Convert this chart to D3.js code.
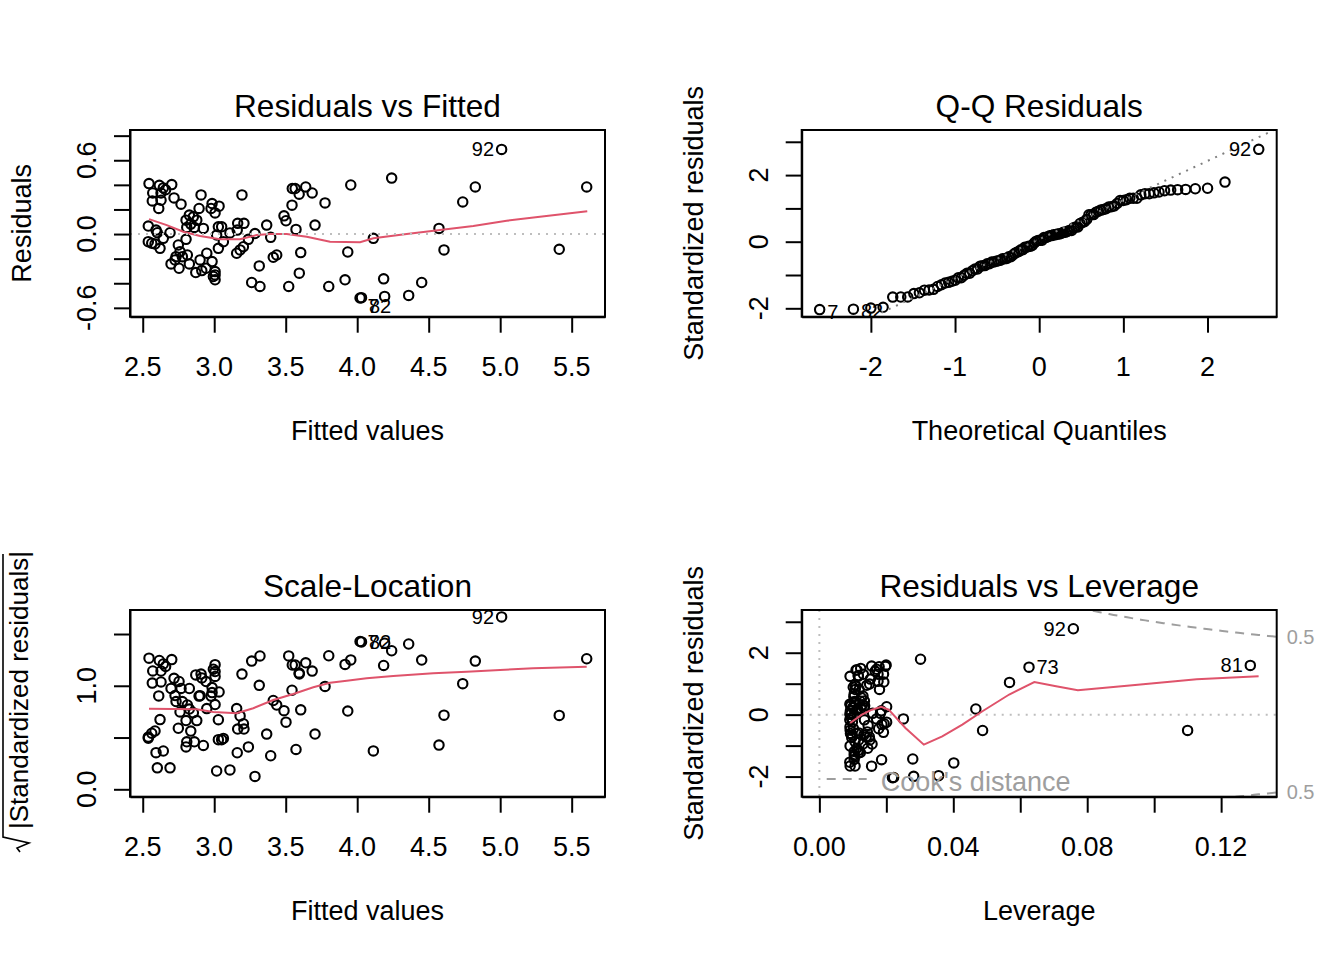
<!DOCTYPE html>
<html>
<head>
<meta charset="utf-8">
<script src="https://cdn.jsdelivr.net/npm/d3@7"></script>
<style>
  body { margin: 0; background: #fff; }
  text { font-family: "Liberation Sans", Arial, Helvetica, sans-serif; fill: #000; }
</style>
</head>
<body>
<svg id="chart" width="1344" height="960"></svg>
<script>
// values (simple regression, n = 110)
var fitted = [
  2.544, 2.616, 2.644, 2.703, 2.570, 2.628, 2.719, 2.567, 2.628, 2.768,
  2.612, 2.908, 2.985, 3.034, 2.978, 3.006, 2.894, 2.826, 2.854, 2.803,
  2.878, 2.836, 2.808, 2.924, 2.861, 2.539, 2.593, 2.602, 2.691, 2.644,
  2.539, 2.563, 2.586, 2.621, 2.749, 2.803, 3.029, 3.052, 3.110, 3.017,
  3.064, 3.029, 3.164, 3.208, 3.161, 3.285, 3.367, 3.395, 3.239, 3.204,
  3.181, 3.157, 2.761, 2.733, 2.777, 2.812, 2.726, 2.698, 2.754, 2.826,
  2.901, 2.948, 2.871, 2.913, 2.943, 2.985, 3.006, 3.006, 3.006, 2.994,
  3.315, 3.413, 3.437, 3.488, 3.502, 3.544, 3.546, 3.566, 3.640, 3.594,
  3.685, 3.775, 3.572, 3.705, 3.605, 3.595, 3.521, 3.262, 3.320, 3.801,
  3.915, 3.934, 3.955, 4.020, 5.010, 4.241, 4.826, 4.738, 5.605, 4.572,
  4.113, 4.607, 5.413, 4.185, 4.451, 4.192, 4.360, 4.030, 3.194, 2.660
];
var resid = [
  0.410, 0.396, 0.375, 0.402, 0.334, 0.334, 0.294, 0.269, 0.275, 0.243,
  0.208, 0.318, 0.248, 0.227, 0.208, 0.172, 0.208, 0.154, 0.140, 0.113,
  0.113, 0.081, 0.054, 0.046, 0.054, 0.065, 0.032, 0.011, 0.011, -0.035,
  -0.062, -0.075, -0.081, -0.116, -0.089, -0.043, 0.059, 0.059, 0.009, -0.008,
  -0.062, -0.116, 0.087, 0.087, 0.032, 0.004, 0.073, -0.027, -0.043, -0.103,
  -0.129, -0.156, -0.143, -0.184, -0.184, -0.170, -0.210, -0.243, -0.278, -0.243,
  -0.210, -0.156, -0.313, -0.297, -0.278, -0.224, -0.305, -0.332, -0.372, -0.345,
  -0.259, -0.189, -0.170, 0.148, 0.108, 0.235, 0.370, 0.370, 0.383, 0.324,
  0.334, 0.253, 0.038, 0.073, -0.151, -0.318, -0.426, -0.394, -0.426, -0.426,
  -0.372, -0.146, 0.399, -0.520, 0.688, 0.455, 0.383, 0.261, 0.383, 0.046,
  -0.035, -0.129, -0.124, -0.364, -0.394, -0.507, -0.499, -0.517, 0.318, 0.360
];
// observation numbers of the labelled points -> position in the arrays
var pointIndex = { "7": 93, "92": 94, "73": 96, "81": 98, "82": 107 };
var idsLargestResid = ["7", "82", "92"];
var idsLargestCook = ["92", "73", "81"];
var sigma = 0.258; // residual standard error

// red smoother lines as drawn
var rvfSmoothX = [2.544, 2.668, 2.784, 2.901, 3.041, 3.180, 3.297, 3.390, 3.507, 3.647, 3.810, 4.020, 4.113, 4.346, 4.579, 4.812, 5.045, 5.278, 5.609];
var rvfSmoothY = [0.121, 0.073, 0.019, -0.016, -0.043, -0.043, -0.008, 0.000, 0.000, -0.022, -0.062, -0.067, -0.035, 0.000, 0.032, 0.065, 0.108, 0.140, 0.186];
var slSmoothX = [2.544, 2.878, 2.994, 3.157, 3.273, 3.413, 3.553, 3.693, 3.810, 3.927, 4.066, 4.252, 4.532, 4.766, 4.999, 5.231, 5.605];
var slSmoothY = [0.779, 0.773, 0.747, 0.734, 0.783, 0.863, 0.921, 0.986, 1.030, 1.049, 1.072, 1.095, 1.121, 1.136, 1.153, 1.169, 1.185];
var levSmoothX = [0.0092, 0.0127, 0.0157, 0.0185, 0.0207, 0.0257, 0.0312, 0.0367, 0.0427, 0.0487, 0.0567, 0.0642, 0.0707, 0.0772, 0.0927, 0.1127, 0.1312];
var levSmoothY = [-0.27, 0.00, 0.16, 0.25, 0.16, -0.43, -0.97, -0.70, -0.32, 0.11, 0.65, 1.05, 0.92, 0.79, 0.94, 1.14, 1.24];

var cookLevels = [0.5, 1];
var nParams = 2;

// tick values
var fittedTicks = [2.5, 3.0, 3.5, 4.0, 4.5, 5.0, 5.5];
var residTicks = [-0.6, -0.4, -0.2, 0, 0.2, 0.4, 0.6, 0.8];
var residTickLabels = [-0.6, 0, 0.6];
var qqXTicks = [-2, -1, 0, 1, 2];
var stdTicks = [-2, -1, 0, 1, 2, 3];
var stdTickLabels = [-2, 0, 2];
var sqrtTicks = [0, 0.5, 1.0, 1.5];
var sqrtTickLabels = [0, 1.0];
var levTicks = [0, 0.02, 0.04, 0.06, 0.08, 0.10, 0.12];
var levTickLabels = [0, 0.04, 0.08, 0.12];

var RED = "#DF536B", COOK = "#9E9E9E", GRAY = "#BEBEBE", GRAY50 = "#7F7F7F";

// inverse normal cdf (Acklam)
function qnorm(p) {
    var a = [-3.969683028665376e+01, 2.209460984245205e+02, -2.759285104469687e+02, 1.383577518672690e+02, -3.066479806614716e+01, 2.506628277459239e+00];
    var b = [-5.447609879822406e+01, 1.615858368580409e+02, -1.556989798598866e+02, 6.680131188771972e+01, -1.328068155288572e+01];
    var c = [-7.784894002430293e-03, -3.223964580411365e-01, -2.400758277161838e+00, -2.549732539343734e+00, 4.374664141464968e+00, 2.938163982698783e+00];
    var d = [7.784695709041462e-03, 3.224671290700398e-01, 2.445134137142996e+00, 3.754408661907416e+00];
    var q, r;
    if (p < 0.02425) {
        q = Math.sqrt(-2 * Math.log(p));
        return (((((c[0] * q + c[1]) * q + c[2]) * q + c[3]) * q + c[4]) * q + c[5]) / ((((d[0] * q + d[1]) * q + d[2]) * q + d[3]) * q + 1);
    }
    if (p > 1 - 0.02425) {
        return -qnorm(1 - p);
    }
    q = p - 0.5; r = q * q;
    return (((((a[0] * r + a[1]) * r + a[2]) * r + a[3]) * r + a[4]) * r + a[5]) * q / (((((b[0] * r + b[1]) * r + b[2]) * r + b[3]) * r + b[4]) * r + 1);
}

// diagnostics derived from the fit
var n = fitted.length;
var fMean = d3.mean(fitted);
var sff = d3.sum(fitted, function (f) { return (f - fMean) * (f - fMean); });
var leverage = fitted.map(function (f) { return 1 / n + (f - fMean) * (f - fMean) / sff; });
var stdResid = resid.map(function (r, i) { return r / (sigma * Math.sqrt(1 - leverage[i])); });
var sqrtAbsStd = stdResid.map(function (v) { return Math.sqrt(Math.abs(v)); });
var qqOrder = d3.range(n).sort(function (a, b) { return stdResid[a] - stdResid[b]; });
var qqTheo = new Array(n), qqSample = new Array(n);
qqOrder.forEach(function (idx, k) {
    qqTheo[idx] = qnorm((k + 0.5) / n);
    qqSample[idx] = stdResid[idx];
});

var svg = d3.select("#chart");

function fmt1(v) { return v.toFixed(1); }
function fmt2(v) { return v.toFixed(2); }
function fmt0(v) { return String(v); }

function makePanel(o) {
    var right = o.left + o.width, bottom = o.top + o.height;
    var x = d3.scaleLinear().domain(o.xDomain).range([o.left, right]);
    var y = d3.scaleLinear().domain(o.yDomain).range([bottom, o.top]);
    var g = svg.append("g");
    g.append("clipPath").attr("id", o.id).append("rect")
        .attr("x", o.left).attr("y", o.top).attr("width", o.width).attr("height", o.height);
    var plot = g.append("g").attr("clip-path", "url(#" + o.id + ")");
    return { x: x, y: y, g: g, plot: plot, right: right, bottom: bottom, o: o };
}

function drawFrame(p) {
    var o = p.o, x = p.x, y = p.y, g = p.g;
    g.append("rect")
        .attr("x", o.left).attr("y", o.top).attr("width", o.width).attr("height", o.height)
        .attr("fill", "none").attr("stroke", "#000").attr("stroke-width", 2);

    var ax = g.append("g").attr("transform", "translate(0," + p.bottom + ")")
        .call(d3.axisBottom(x).tickValues(o.xTicks).tickSize(16).tickSizeOuter(0).tickFormat(""));
    var ay = g.append("g").attr("transform", "translate(" + o.left + ",0)")
        .call(d3.axisLeft(y).tickValues(o.yTicks).tickSize(16).tickSizeOuter(0).tickFormat(""));
    [ax, ay].forEach(function (a) {
        a.selectAll("line,path").attr("stroke", "#000").attr("stroke-width", 2);
    });

    g.selectAll(null).data(o.xLabels).join("text")
        .attr("x", function (d) { return x(d); })
        .attr("y", p.bottom + 59)
        .attr("text-anchor", "middle").attr("font-size", 27)
        .text(o.xFormat);
    g.selectAll(null).data(o.yLabels).join("text")
        .attr("transform", function (d) { return "translate(" + (o.left - 34) + "," + y(d) + ") rotate(-90)"; })
        .attr("text-anchor", "middle").attr("font-size", 27)
        .text(o.yFormat);

    g.append("text").attr("x", (o.left + p.right) / 2).attr("y", o.top - 13)
        .attr("text-anchor", "middle").attr("font-size", 31.6).text(o.title);
    g.append("text").attr("x", (o.left + p.right) / 2).attr("y", p.bottom + 123)
        .attr("text-anchor", "middle").attr("font-size", 27).text(o.xTitle);
    if (o.yTitle) {
        g.append("text")
            .attr("transform", "translate(" + (o.left - 99) + "," + (o.top + p.bottom) / 2 + ") rotate(-90)")
            .attr("text-anchor", "middle").attr("font-size", 27).text(o.yTitle);
    }
}

function drawPoints(p, xs, ys) {
    p.plot.selectAll(null).data(d3.range(xs.length)).join("circle")
        .attr("cx", function (i) { return p.x(xs[i]); })
        .attr("cy", function (i) { return p.y(ys[i]); })
        .attr("r", 4.7)
        .attr("fill", "none").attr("stroke", "#000").attr("stroke-width", 2.1);
}

function drawLine(p, xs, ys, color, dash) {
    p.plot.append("path").datum(d3.range(xs.length))
        .attr("d", d3.line().x(function (i) { return p.x(xs[i]); }).y(function (i) { return p.y(ys[i]); }))
        .attr("fill", "none").attr("stroke", color).attr("stroke-width", 2)
        .attr("stroke-dasharray", dash || null);
}

function hLine(p, v, color, dash) {
    p.plot.append("line").attr("x1", p.o.left).attr("x2", p.right)
        .attr("y1", p.y(v)).attr("y2", p.y(v))
        .attr("stroke", color).attr("stroke-width", 2).attr("stroke-dasharray", dash);
}

function vLine(p, v, color, dash) {
    p.plot.append("line").attr("y1", p.o.top).attr("y2", p.bottom)
        .attr("x1", p.x(v)).attr("x2", p.x(v))
        .attr("stroke", color).attr("stroke-width", 2).attr("stroke-dasharray", dash);
}

// id labels: left of the point in the right half of the x range, else right of it
function drawIds(p, ids, xs, ys, negShift) {
    var mid = (d3.min(xs) + d3.max(xs)) / 2;
    var items = ids.map(function (id) {
        var i = pointIndex[id];
        return { id: id, xv: xs[i], yv: ys[i] };
    });
    p.g.selectAll(null).data(items).join("text")
        .attr("x", function (d) { return p.x(d.xv) + (d.xv > mid ? -7.5 : 7.5); })
        .attr("y", function (d) { return p.y(d.yv) + 7 + (d.yv < 0 ? negShift : 0); })
        .attr("text-anchor", function (d) { return d.xv > mid ? "end" : "start"; })
        .attr("font-size", 20)
        .text(function (d) { return d.id; });
}

var DOT = "2,6", DASH = "9,7";

// 1. Residuals vs Fitted
var p1 = makePanel({
    id: "clip1", left: 130, top: 130, width: 475, height: 186.7,
    xDomain: [2.411, 5.733], yDomain: [-0.672, 0.846],
    xTicks: fittedTicks, xLabels: fittedTicks, xFormat: fmt1,
    yTicks: residTicks, yLabels: residTickLabels, yFormat: fmt1,
    title: "Residuals vs Fitted", xTitle: "Fitted values", yTitle: "Residuals"
});
drawPoints(p1, fitted, resid);
drawLine(p1, rvfSmoothX, rvfSmoothY, RED);
hLine(p1, 0, GRAY, DOT);
drawIds(p1, idsLargestResid, fitted, resid, 8);
drawFrame(p1);

// 2. Q-Q Residuals
var p2 = makePanel({
    id: "clip2", left: 801.7, top: 130, width: 475, height: 186.7,
    xDomain: [-2.822, 2.822], yDomain: [-2.252, 3.354],
    xTicks: qqXTicks, xLabels: qqXTicks, xFormat: fmt0,
    yTicks: stdTicks, yLabels: stdTickLabels, yFormat: fmt0,
    title: "Q-Q Residuals", xTitle: "Theoretical Quantiles", yTitle: "Standardized residuals"
});
drawPoints(p2, qqTheo, qqSample);
(function () {
    var sorted = qqOrder.map(function (i) { return stdResid[i]; });
    var y1 = d3.quantile(sorted, 0.25), y3 = d3.quantile(sorted, 0.75);
    var x1 = qnorm(0.25), x3 = qnorm(0.75);
    var slope = (y3 - y1) / (x3 - x1), icpt = y1 - slope * x1;
    var dom = p2.x.domain();
    drawLine(p2, dom, dom.map(function (v) { return icpt + slope * v; }), GRAY50, DOT);
})();
drawIds(p2, idsLargestResid, qqTheo, qqSample, 2);
drawFrame(p2);

// 3. Scale-Location
var p3 = makePanel({
    id: "clip3", left: 130, top: 610, width: 475, height: 186.7,
    xDomain: [2.411, 5.733], yDomain: [-0.0715, 1.732],
    xTicks: fittedTicks, xLabels: fittedTicks, xFormat: fmt1,
    yTicks: sqrtTicks, yLabels: sqrtTickLabels, yFormat: fmt1,
    title: "Scale-Location", xTitle: "Fitted values", yTitle: null
});
drawPoints(p3, fitted, sqrtAbsStd);
drawLine(p3, slSmoothX, slSmoothY, RED);
drawIds(p3, idsLargestResid, fitted, sqrtAbsStd, 0);
drawFrame(p3);
(function () {
    // sqrt(|Standardized residuals|) written with a radical sign
    var t = p3.g.append("g")
        .attr("transform", "translate(" + (p3.o.left - 102) + "," + 690 + ") rotate(-90)");
    t.append("text").attr("x", 0).attr("y", 0).attr("text-anchor", "middle")
        .attr("font-size", 26).text("|Standardized residuals|");
    t.append("path")
        .attr("d", "M-162,-8 L-158,-11 L-153,1 L-147,-25 L136,-25")
        .attr("fill", "none").attr("stroke", "#000").attr("stroke-width", 1.6);
})();

// 4. Residuals vs Leverage
var p4 = makePanel({
    id: "clip4", left: 801.7, top: 610, width: 475, height: 186.7,
    xDomain: [-0.00528, 0.1366], yDomain: [-2.65, 3.38],
    xTicks: levTicks, xLabels: levTickLabels, xFormat: fmt2,
    yTicks: stdTicks, yLabels: stdTickLabels, yFormat: fmt0,
    title: "Residuals vs Leverage", xTitle: "Leverage", yTitle: "Standardized residuals"
});
hLine(p4, 0, GRAY, DOT);
vLine(p4, 0, GRAY, DOT);
drawPoints(p4, leverage, stdResid);
drawLine(p4, levSmoothX, levSmoothY, RED);
(function () {
    var hRange = d3.extent(leverage);
    var xMax = p4.x.domain()[1];
    var h0 = Math.min(hRange[0], hRange[1] / 100);
    var hh = d3.range(101).map(function (k) { return h0 + (xMax - h0) * k / 100; });
    cookLevels.forEach(function (crit) {
        var cl = hh.map(function (h) { return Math.sqrt(crit * nParams * (1 - h) / h); });
        drawLine(p4, hh, cl, COOK, DASH);
        drawLine(p4, hh, cl.map(function (v) { return -v; }), COOK, DASH);
        var aty = Math.sqrt(crit * nParams * (1 - xMax) / xMax);
        var yd = p4.y.domain();
        [aty, -aty].forEach(function (v) {
            if (v > yd[0] && v < yd[1]) {
                p4.g.append("text").attr("x", p4.right + 10).attr("y", p4.y(v) + 7)
                    .attr("font-size", 20).style("fill", COOK).text(String(crit));
            }
        });
    });
    // legend
    var ly = p4.bottom - 17.7;
    p4.g.append("line").attr("x1", p4.o.left + 25).attr("x2", p4.o.left + 65)
        .attr("y1", ly).attr("y2", ly)
        .attr("stroke", COOK).attr("stroke-width", 2).attr("stroke-dasharray", DASH);
    p4.g.append("text").attr("x", p4.o.left + 79).attr("y", p4.bottom - 5.5)
        .attr("font-size", 27).style("fill", COOK).text("Cook's distance");
})();
drawIds(p4, idsLargestCook, leverage, stdResid, 0);
drawFrame(p4);
</script>
</body>
</html>
